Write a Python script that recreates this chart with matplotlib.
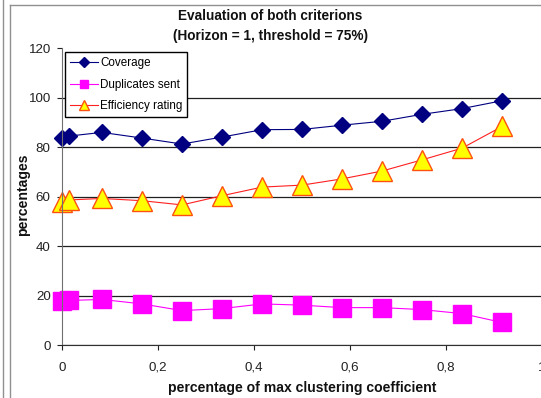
import matplotlib
matplotlib.use("Agg")
import matplotlib.pyplot as plt
from matplotlib.lines import Line2D

plt.rcParams['font.family'] = ['Liberation Sans', 'DejaVu Sans']

# clustering coefficient share (x) and the three measured criteria
clustering = [0, 0.014, 0.083, 0.167, 0.25, 0.333, 0.417, 0.5, 0.583, 0.667, 0.75, 0.833, 0.917]
coverage = [83.8, 84.4, 85.9, 83.6, 81.2, 84.0, 87.0, 87.1, 88.8, 90.4, 93.2, 95.5, 98.7]
duplicates = [17.7, 18.0, 18.4, 16.6, 13.9, 14.7, 16.6, 16.1, 15.1, 15.1, 14.3, 12.7, 9.1]
efficiency = [57.9, 58.6, 59.2, 58.3, 56.6, 60.3, 63.8, 64.6, 67.1, 70.3, 74.8, 79.5, 88.3]

xticks = [0, 0.2, 0.4, 0.6, 0.8, 1]
xtick_labels = ['0', '0,2', '0,4', '0,6', '0,8', '1']
yticks = [0, 20, 40, 60, 80, 100, 120]

W, H = 541, 398
fig = plt.figure(figsize=(W / 100, H / 100), dpi=100)
ax = fig.add_axes([62 / W, 1 - 345 / H, (542 - 62) / W, (345 - 48) / H])

ax.plot(clustering, coverage, color='#000080', lw=0.8, marker='D', ms=8.5,
        mfc='#000080', mec='#000080', label='Coverage', clip_on=False)
ax.plot(clustering, duplicates, color='#FF00FF', lw=0.8, marker='s', ms=13.5,
        mfc='#FF00FF', mec='#FF00FF', label='Duplicates sent', clip_on=False)
ax.plot(clustering, efficiency, color='#FF2020', lw=0.8, marker='^', ms=14.5,
        mfc='#FFFF00', mec='#FF5010', mew=1.0, label='Efficiency rating', clip_on=False)

ax.set_xlim(0, 1)
ax.set_ylim(0, 120)
ax.set_xticks(xticks)
ax.set_xticklabels(xtick_labels)
ax.set_yticks(yticks)
ax.tick_params(axis='both', labelsize=9.6, colors='#222222', direction='out', length=3.6, width=0.8)
ax.tick_params(axis='x', pad=8.4)
ax.tick_params(axis='y', pad=4.5)

ax.yaxis.grid(True, color='#202020', lw=0.9)
ax.yaxis.get_gridlines()[-1].set_visible(False)
ax.set_axisbelow(True)
for side in ('top', 'right'):
    ax.spines[side].set_visible(False)
ax.spines['left'].set_color('#707070')
ax.spines['bottom'].set_color('#303030')

handles = [
    Line2D([], [], color='#000080', lw=0.8, marker='D', ms=5, mfc='#000080', mec='#000080'),
    Line2D([], [], color='#FF00FF', lw=0.8, marker='s', ms=6, mfc='#FF00FF', mec='#FF00FF'),
    Line2D([], [], color='#FF2020', lw=0.8, marker='^', ms=7, mfc='#FFFF00', mec='#FF5010'),
]
leg = ax.legend(handles, ['Coverage', 'Duplicates sent', 'Efficiency rating'],
                loc='upper left', bbox_to_anchor=(65 / W, 1 - 52 / H),
                bbox_transform=fig.transFigure, borderaxespad=0, fontsize=8.4,
                frameon=True, fancybox=False, edgecolor='black', framealpha=1,
                handlelength=2.4, handletextpad=0.2, labelspacing=0.85,
                borderpad=0.4)
leg.get_frame().set_linewidth(1.0)

fig.text(0.5, 1 - 16 / H, 'Evaluation of both criterions', ha='center', va='center',
         fontsize=9.8, fontweight='bold', color='#111111')
fig.text(0.5, 1 - 36 / H, '(Horizon = 1, threshold = 75%)', ha='center', va='center',
         fontsize=9.8, fontweight='bold', color='#111111')
fig.text(302 / W, 1 - 388 / H, 'percentage of max clustering coefficient', ha='center',
         va='center', fontsize=10.1, fontweight='bold', color='#111111')
fig.text(23 / W, 1 - 195 / H, 'percentages', ha='center', va='center', rotation=90,
         fontsize=10.1, fontweight='bold', color='#111111')

# outer chart frame
fig.add_artist(Line2D([3 / W, 3 / W], [0, 1], color='#909090', lw=1, transform=fig.transFigure))
fig.add_artist(Line2D([9.5 / W, 9.5 / W], [0, 1 - 5 / H], color='#909090', lw=1, transform=fig.transFigure))
fig.add_artist(Line2D([9.5 / W, 1], [1 - 5 / H, 1 - 5 / H], color='#909090', lw=1, transform=fig.transFigure))

fig.savefig('out.png', dpi=100)
